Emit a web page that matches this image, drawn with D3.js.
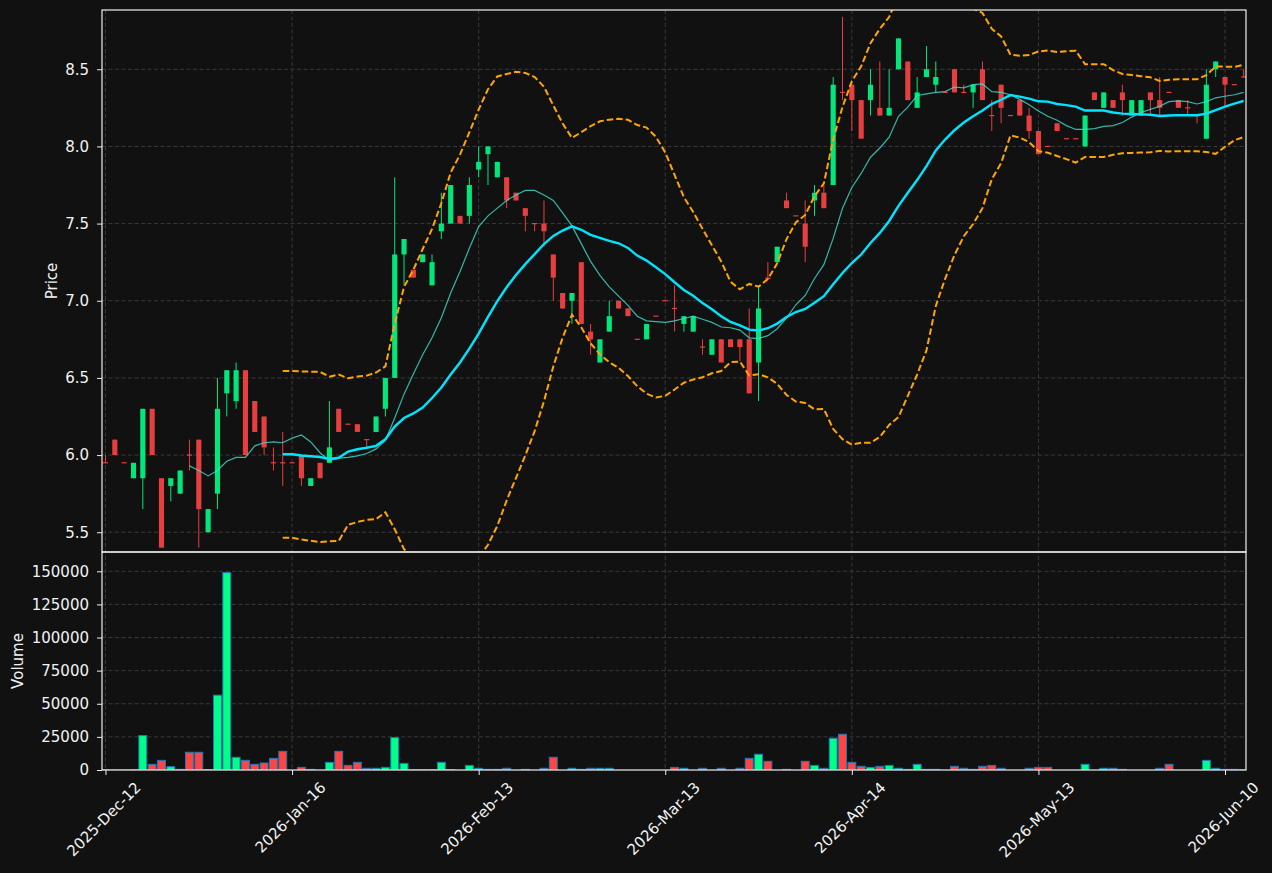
<!DOCTYPE html>
<html lang="en">
  <head>
    <meta charset="UTF-8" />
    <title>Price and Volume</title>
    <style>
      body { margin: 0; background: #111111; }
      text { font-family: "DejaVu Sans", sans-serif; }
    </style>
  </head>
  <body>
    <script src="https://d3js.org/d3.v7.min.js"></script>
    <script>
      const width = 1272;
      const height = 873;

      // daily candles, index 0 = 2025-Dec-12
      const opens = [5.95, 6.10, 5.95, 5.85, 5.85, 6.30, 5.85, 5.80, 5.75, 6.00,
        6.10, 5.50, 5.75, 6.40, 6.35, 6.55, 6.35, 6.25, 5.95, 5.95,
        5.95, 6.00, 5.80, 5.95, 5.95, 6.30, 6.20, 6.20, 6.10, 6.15,
        6.30, 6.50, 7.30, 7.20, 7.25, 7.10, 7.45, 7.50, 7.55, 7.55,
        7.85, 7.95, 7.80, 7.80, 7.70, 7.60, 7.50, 7.50, 7.30, 7.05,
        7.00, 7.25, 6.80, 6.60, 6.80, 7.00, 6.95, 6.75, 6.75, 6.90,
        7.00, 6.95, 6.85, 6.80, 6.70, 6.65, 6.75, 6.75, 6.75, 6.75,
        6.60, 7.15, 7.25, 7.65, 7.55, 7.50, 7.65, 7.70, 7.75, 8.35,
        8.40, 8.30, 8.30, 8.25, 8.20, 8.50, 8.55, 8.25, 8.45, 8.40,
        8.35, 8.50, 8.35, 8.35, 8.50, 8.20, 8.40, 8.20, 8.30, 8.20,
        8.10, 8.00, 8.15, 8.05, 8.05, 8.00, 8.35, 8.25, 8.30, 8.35,
        8.20, 8.20, 8.35, 8.30, 8.35, 8.30, 8.25, 8.20, 8.05, 8.50,
        8.45, 8.40, 8.45];
      const highs = [6.00, 6.10, 5.95, 5.95, 6.30, 6.30, 5.85, 5.85, 5.90, 6.10,
        6.10, 5.65, 6.50, 6.55, 6.60, 6.55, 6.35, 6.25, 6.05, 6.15,
        5.95, 6.00, 5.85, 5.95, 6.35, 6.30, 6.20, 6.20, 6.10, 6.25,
        6.50, 7.80, 7.40, 7.20, 7.30, 7.30, 7.70, 7.75, 7.55, 7.80,
        8.00, 8.00, 7.90, 7.80, 7.70, 7.60, 7.50, 7.65, 7.30, 7.05,
        7.05, 7.25, 6.85, 6.75, 7.00, 7.00, 6.95, 6.75, 6.85, 6.90,
        7.00, 7.10, 6.90, 6.90, 6.75, 6.75, 6.75, 6.75, 6.75, 6.95,
        7.10, 7.25, 7.35, 7.70, 7.55, 7.65, 7.75, 7.75, 8.45, 8.84,
        8.40, 8.30, 8.50, 8.55, 8.50, 8.70, 8.55, 8.45, 8.65, 8.55,
        8.35, 8.50, 8.40, 8.40, 8.55, 8.30, 8.40, 8.20, 8.30, 8.25,
        8.10, 8.00, 8.15, 8.05, 8.05, 8.20, 8.35, 8.35, 8.30, 8.40,
        8.30, 8.30, 8.35, 8.45, 8.35, 8.30, 8.30, 8.20, 8.50, 8.55,
        8.45, 8.40, 8.50];
      const lows = [5.95, 6.00, 5.95, 5.85, 5.65, 6.00, 5.40, 5.70, 5.75, 5.90,
        5.40, 5.50, 5.65, 6.25, 6.30, 6.00, 6.15, 6.00, 5.90, 5.80,
        5.95, 5.80, 5.80, 5.85, 5.95, 6.15, 6.20, 6.15, 6.05, 6.15,
        6.25, 6.50, 7.10, 7.15, 7.25, 7.10, 7.40, 7.50, 7.50, 7.50,
        7.80, 7.75, 7.80, 7.60, 7.65, 7.45, 7.45, 7.35, 7.00, 6.95,
        6.85, 6.85, 6.65, 6.60, 6.80, 6.95, 6.90, 6.75, 6.75, 6.90,
        7.00, 6.80, 6.80, 6.80, 6.65, 6.65, 6.60, 6.70, 6.61, 6.40,
        6.35, 7.14, 7.25, 7.60, 7.55, 7.25, 7.55, 7.60, 7.75, 8.30,
        8.10, 8.05, 8.20, 8.20, 8.20, 8.50, 8.30, 8.25, 8.45, 8.35,
        8.35, 8.35, 8.35, 8.25, 8.30, 8.10, 8.15, 8.20, 8.20, 8.05,
        7.95, 8.00, 8.10, 8.05, 8.05, 8.00, 8.30, 8.25, 8.25, 8.20,
        8.20, 8.20, 8.20, 8.20, 8.35, 8.25, 8.20, 8.15, 8.05, 8.45,
        8.25, 8.40, 8.45];
      const closes = [5.95, 6.00, 5.95, 5.95, 6.30, 6.00, 5.40, 5.85, 5.90, 6.00,
        5.65, 5.65, 6.30, 6.55, 6.55, 6.00, 6.15, 6.05, 5.95, 5.95,
        5.95, 5.85, 5.85, 5.85, 6.05, 6.15, 6.20, 6.15, 6.10, 6.25,
        6.50, 7.30, 7.40, 7.15, 7.30, 7.25, 7.50, 7.75, 7.50, 7.75,
        7.90, 8.00, 7.90, 7.65, 7.65, 7.55, 7.50, 7.45, 7.15, 6.95,
        7.05, 6.85, 6.75, 6.75, 6.90, 6.95, 6.90, 6.75, 6.85, 6.90,
        7.00, 6.95, 6.90, 6.90, 6.70, 6.75, 6.60, 6.70, 6.70, 6.40,
        6.95, 7.14, 7.35, 7.60, 7.55, 7.35, 7.70, 7.60, 8.40, 8.35,
        8.30, 8.05, 8.40, 8.20, 8.25, 8.70, 8.30, 8.35, 8.50, 8.45,
        8.35, 8.35, 8.35, 8.40, 8.30, 8.20, 8.25, 8.20, 8.20, 8.10,
        7.95, 8.00, 8.10, 8.05, 8.05, 8.20, 8.30, 8.35, 8.25, 8.30,
        8.30, 8.30, 8.30, 8.25, 8.35, 8.25, 8.25, 8.20, 8.40, 8.55,
        8.40, 8.40, 8.45];
      const volumes = [300, 100, 100, 200, 26000, 4300, 7300, 2500, 500, 13400,
        13400, 300, 56500, 149000, 9600, 7300, 4300, 5300, 8800, 14100,
        0, 2000, 500, 0, 5800, 14100, 3500, 5800, 1300, 1300,
        2000, 24500, 5000, 300, 300, 300, 5800, 300, 0, 3500,
        1300, 500, 500, 1300, 0, 500, 0, 1300, 9600, 0,
        1300, 500, 1300, 1300, 1300, 0, 0, 0, 0, 0,
        0, 2000, 1300, 0, 1300, 0, 1300, 0, 1300, 8800,
        11900, 6600, 0, 500, 0, 6600, 3500, 1300, 24000, 27000,
        5800, 2800, 2000, 2800, 3500, 1300, 500, 4300, 500, 500,
        0, 2800, 1300, 500, 2800, 3500, 1300, 0, 0, 1300,
        2000, 2000, 0, 0, 0, 4300, 0, 1300, 1300, 500,
        0, 0, 0, 1300, 4300, 0, 0, 0, 7300, 1300,
        500, 500, 300];

      const dateTickIndex = [0, 20, 40, 60, 80, 100, 120];
      const dateTickLabels = ["2025-Dec-12", "2026-Jan-16", "2026-Feb-13", "2026-Mar-13",
        "2026-Apr-14", "2026-May-13", "2026-Jun-10"];
      const priceTicks = [5.5, 6.0, 6.5, 7.0, 7.5, 8.0, 8.5];
      const volumeTicks = [0, 25000, 50000, 75000, 100000, 125000, 150000];

      const mavShort = 10;
      const mavLong = 20;
      const bbStd = 2;

      const upColor = "#00ff88";
      const downColor = "#ff4444";

      const plotLeft = 102, plotRight = 1246;
      const plotTop = 10, plotSplit = 552, plotBottom = 770;

      const data = opens.map((o, i) => ({
        i, o, h: highs[i], l: lows[i], c: closes[i], v: volumes[i],
        up: closes[i] > o,
      }));

      function sma(n) {
        return closes.map((_, i) =>
          i < n - 1 ? null : d3.mean(closes.slice(i - n + 1, i + 1))
        );
      }
      const ma10 = sma(mavShort);
      const ma20 = sma(mavLong);
      const bbUpper = [], bbLower = [];
      closes.forEach((_, i) => {
        if (i < mavLong - 1) { bbUpper.push(null); bbLower.push(null); return; }
        const w = closes.slice(i - mavLong + 1, i + 1);
        const m = d3.mean(w);
        const sd = Math.sqrt(d3.mean(w, (d) => (d - m) * (d - m)));
        bbUpper.push(m + bbStd * sd);
        bbLower.push(m - bbStd * sd);
      });

      const x = d3.scaleLinear().domain([-0.375, 122.25]).range([plotLeft, plotRight]);
      const yP = d3.scaleLinear().domain([5.372, 8.884]).range([plotSplit, plotTop]);
      const yV = d3.scaleLinear().domain([0, 164570]).range([plotBottom, plotSplit]);
      const step = x(1) - x(0);

      const svg = d3
        .select("body")
        .append("svg")
        .attr("width", width)
        .attr("height", height)
        .style("background", "#111111");

      const defs = svg.append("defs");
      defs.append("clipPath").attr("id", "clipP")
        .append("rect").attr("x", plotLeft).attr("y", plotTop)
        .attr("width", plotRight - plotLeft).attr("height", plotSplit - plotTop);
      defs.append("clipPath").attr("id", "clipV")
        .append("rect").attr("x", plotLeft).attr("y", plotSplit)
        .attr("width", plotRight - plotLeft).attr("height", plotBottom - plotSplit);

      // grid
      const grid = svg.append("g")
        .attr("stroke", "#3a3a3a")
        .attr("stroke-width", 1)
        .attr("stroke-dasharray", "4,2.5");
      grid.selectAll(".gp").data(priceTicks).join("line")
        .attr("x1", plotLeft).attr("x2", plotRight)
        .attr("y1", (d) => yP(d)).attr("y2", (d) => yP(d));
      grid.selectAll(".gv").data(volumeTicks.slice(1)).join("line")
        .attr("x1", plotLeft).attr("x2", plotRight)
        .attr("y1", (d) => yV(d)).attr("y2", (d) => yV(d));
      grid.selectAll(".gx").data(dateTickIndex).join("line")
        .attr("x1", (d) => x(d)).attr("x2", (d) => x(d))
        .attr("y1", plotTop).attr("y2", plotBottom);

      // candles
      const gc = svg.append("g").attr("clip-path", "url(#clipP)").attr("opacity", 0.9);
      const bw = step * 0.55;
      gc.selectAll(".wick").data(data).join("line")
        .attr("x1", (d) => x(d.i)).attr("x2", (d) => x(d.i))
        .attr("y1", (d) => yP(d.h)).attr("y2", (d) => yP(d.l))
        .attr("stroke", (d) => (d.up ? upColor : downColor))
        .attr("stroke-width", 1);
      gc.selectAll(".body").data(data).join("rect")
        .attr("x", (d) => x(d.i) - bw / 2)
        .attr("width", bw)
        .attr("y", (d) => Math.min(yP(d.o), yP(d.c)) - (d.o === d.c ? 0.6 : 0))
        .attr("height", (d) => Math.max(Math.abs(yP(d.o) - yP(d.c)), 1.2))
        .attr("fill", (d) => (d.up ? upColor : downColor));

      // moving averages and bands
      const gl = svg.append("g").attr("clip-path", "url(#clipP)").attr("fill", "none");
      const line = d3.line()
        .defined((d) => d != null)
        .x((d, i) => x(i))
        .y((d) => yP(d));
      gl.append("path").attr("d", line(ma10))
        .attr("stroke", "#40e0d0").attr("stroke-opacity", 0.8).attr("stroke-width", 1.2);
      gl.append("path").attr("d", line(ma20))
        .attr("stroke", "#00e5ff").attr("stroke-width", 2.4);
      [bbUpper, bbLower].forEach((b) => {
        gl.append("path").attr("d", line(b))
          .attr("stroke", "#ffa500").attr("stroke-width", 2)
          .attr("stroke-dasharray", "6.5,3");
      });

      // volume
      const gv = svg.append("g").attr("clip-path", "url(#clipV)");
      const vw = step * 0.85;
      gv.selectAll("rect").data(data).join("rect")
        .attr("x", (d) => x(d.i) - vw / 2)
        .attr("width", vw)
        .attr("y", (d) => yV(d.v))
        .attr("height", (d) => yV(0) - yV(d.v))
        .attr("fill", (d) => (d.up ? upColor : downColor))
        .attr("stroke", "#1f77b4")
        .attr("stroke-width", 1);

      // frames
      svg.append("rect").attr("x", plotLeft).attr("y", plotTop)
        .attr("width", plotRight - plotLeft).attr("height", plotSplit - plotTop)
        .attr("fill", "none").attr("stroke", "#f0f0f0").attr("stroke-width", 1.2);
      svg.append("rect").attr("x", plotLeft).attr("y", plotSplit)
        .attr("width", plotRight - plotLeft).attr("height", plotBottom - plotSplit)
        .attr("fill", "none").attr("stroke", "#f0f0f0").attr("stroke-width", 1.2);

      // axes
      function styleAxis(g) {
        g.select(".domain").remove();
        g.selectAll(".tick line").attr("stroke", "#f0f0f0");
        g.selectAll(".tick text").attr("fill", "#f2f2f2").style("font-size", "15px");
      }
      svg.append("g").attr("transform", `translate(${plotLeft},0)`)
        .call(d3.axisLeft(yP).tickValues(priceTicks).tickFormat(d3.format(".1f"))
          .tickSize(5).tickPadding(8))
        .call(styleAxis);
      svg.append("g").attr("transform", `translate(${plotLeft},0)`)
        .call(d3.axisLeft(yV).tickValues(volumeTicks).tickFormat(d3.format("d"))
          .tickSize(5).tickPadding(8))
        .call(styleAxis);
      const xa = svg.append("g").attr("transform", `translate(0,${plotBottom})`)
        .call(d3.axisBottom(x).tickValues(dateTickIndex)
          .tickFormat((d, i) => dateTickLabels[i]).tickSize(5))
        .call(styleAxis);
      xa.selectAll(".tick text").each(function () {
        const t = d3.select(this);
        const len = this.getComputedTextLength();
        const cy = 9 + ((len + 17) * Math.SQRT1_2) / 2;
        t.attr("y", null).attr("dy", null)
          .attr("text-anchor", "middle")
          .attr("dominant-baseline", "central")
          .attr("transform", `translate(-2,${cy}) rotate(-45)`);
      });

      svg.append("text")
        .attr("transform", `translate(52,${(plotTop + plotSplit) / 2}) rotate(-90)`)
        .attr("text-anchor", "middle")
        .attr("dominant-baseline", "central")
        .attr("fill", "#f2f2f2").style("font-size", "15px")
        .text("Price");
      svg.append("text")
        .attr("transform", `translate(18,${(plotSplit + plotBottom) / 2}) rotate(-90)`)
        .attr("text-anchor", "middle")
        .attr("dominant-baseline", "central")
        .attr("fill", "#f2f2f2").style("font-size", "15px")
        .text("Volume");
    </script>
  </body>
</html>
